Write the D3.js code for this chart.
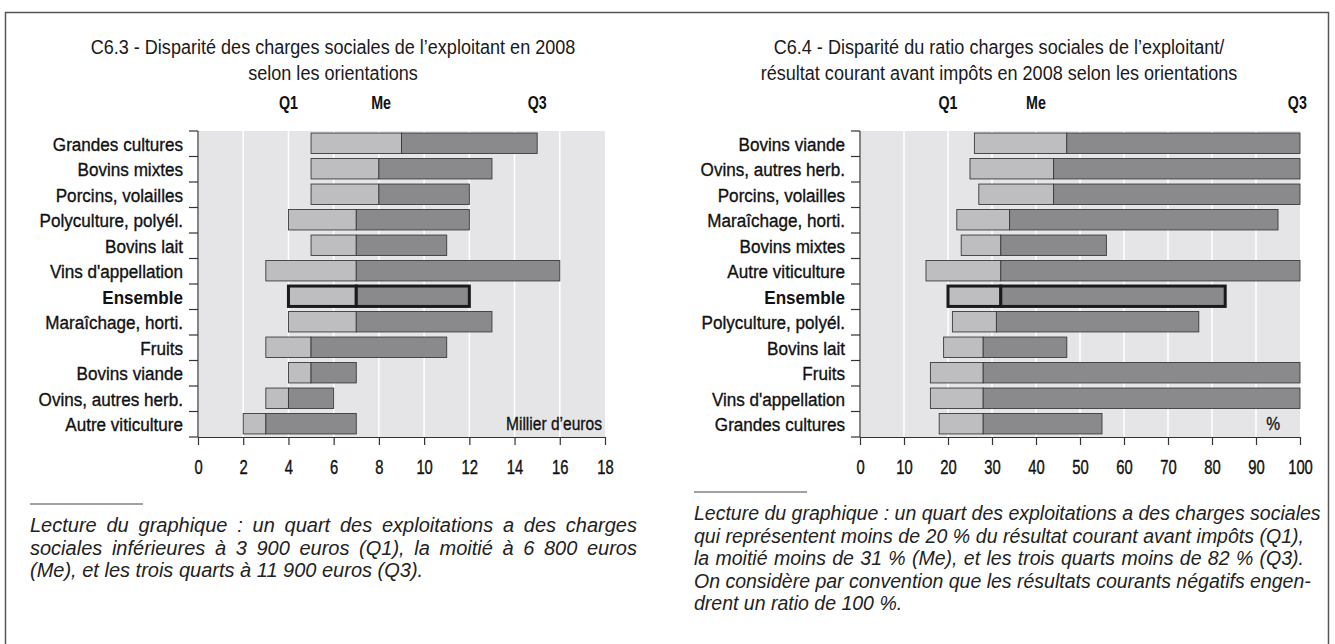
<!DOCTYPE html>
<html>
<head>
<meta charset="utf-8">
<script src="https://cdn.jsdelivr.net/npm/d3@7"></script>
<style>
  body { margin: 0; background: #fff; }
  svg { display: block; }
  text { font-family: 'Liberation Sans', Arial, sans-serif; }
  .note { font-style: italic; }
</style>
</head>
<body>
<script>
// C6.3 - charges sociales, milliers d'euros
const leftCategories = ['Grandes cultures', 'Bovins mixtes', 'Porcins, volailles', 'Polyculture, polyél.',
  'Bovins lait', "Vins d'appellation", 'Ensemble', 'Maraîchage, horti.', 'Fruits', 'Bovins viande',
  'Ovins, autres herb.', 'Autre viticulture']
const leftQ1 = [5, 5, 5, 4, 5, 3, 4, 4, 3, 4, 3, 2]
const leftMe = [9, 8, 8, 7, 7, 7, 7, 7, 5, 5, 4, 3]
const leftQ3 = [15, 13, 12, 12, 11, 16, 12, 13, 11, 7, 6, 7]
const leftTicks = [0, 2, 4, 6, 8, 10, 12, 14, 16, 18]

// C6.4 - ratio charges sociales / résultat courant, %
const rightCategories = ['Bovins viande', 'Ovins, autres herb.', 'Porcins, volailles', 'Maraîchage, horti.',
  'Bovins mixtes', 'Autre viticulture', 'Ensemble', 'Polyculture, polyél.', 'Bovins lait', 'Fruits',
  "Vins d'appellation", 'Grandes cultures']
const rightQ1 = [26, 25, 27, 22, 23, 15, 20, 21, 19, 16, 16, 18]
const rightMe = [47, 44, 44, 34, 32, 32, 32, 31, 28, 28, 28, 28]
const rightQ3 = [100, 100, 100, 95, 56, 100, 83, 77, 47, 100, 100, 55]
const rightTicks = [0, 10, 20, 30, 40, 50, 60, 70, 80, 90, 100]

const quartileLabels = ['Q1', 'Me', 'Q3']

const leftNote = [
  'Lecture du graphique : un quart des exploitations a des charges',
  'sociales inférieures à 3 900 euros (Q1), la moitié à 6 800 euros',
  '(Me), et les trois quarts à 11 900 euros (Q3).'
]
const rightNote = [
  'Lecture du graphique : un quart des exploitations a des charges sociales',
  'qui représentent moins de 20 % du résultat courant avant impôts (Q1),',
  'la moitié moins de 31 % (Me), et les trois quarts moins de 82 % (Q3).',
  'On considère par convention que les résultats courants négatifs engen-',
  'drent un ratio de 100 %.'
]

const width = 1335
const height = 644

const svg = d3.select('body').append('svg')
  .attr('width', width)
  .attr('height', height)

// outer frame
svg.append('path')
  .attr('d', 'M5.5,660V12.5H1328.5V660')
  .attr('fill', 'none')
  .attr('stroke', '#555')
  .attr('stroke-width', 1.5)

// condensed text: regular face squeezed horizontally
function narrow(sel, x, y, sx) {
  sel.attr('transform', (d, i) => {
    const px = typeof x === 'function' ? x(d, i) : x
    const py = typeof y === 'function' ? y(d, i) : y
    return `translate(${px},${py}) scale(${sx},1)`
  })
}

function drawPanel(cfg) {
  const data = cfg.categories.map((c, i) => ({ cat: c, q1: cfg.q1[i], me: cfg.me[i], q3: cfg.q3[i] }))

  const top = 131
  const bottom = 437
  const x = d3.scaleLinear().domain(cfg.domain).range(cfg.xRange)
  const y = d3.scaleBand().domain(cfg.categories).range([top, bottom]).padding(0)
  const bw = y.bandwidth()
  const g = svg.append('g')

  // title
  g.selectAll('.title')
    .data(cfg.title)
    .enter().append('text')
    .attr('text-anchor', 'middle')
    .attr('font-size', 21)
    .attr('fill', '#1a1a1a')
    .text(d => d)
    .call(narrow, cfg.titleX, (d, i) => 54 + i * 26, 0.86)

  // quartile header
  g.selectAll('.qh')
    .data(quartileLabels)
    .enter().append('text')
    .attr('text-anchor', 'middle')
    .attr('font-size', 19)
    .attr('font-weight', 'bold')
    .attr('fill', '#111')
    .text(d => d)
    .call(narrow, (d, i) => x(cfg.headerAt[i]), 109, 0.75)

  // plot background + white grid
  g.append('rect')
    .attr('x', x(cfg.domain[0]) + 1)
    .attr('y', top)
    .attr('width', x(cfg.domain[1]) - x(cfg.domain[0]) - 1)
    .attr('height', bottom - top)
    .attr('fill', '#e5e5e7')

  g.selectAll('.grid')
    .data(cfg.ticks.slice(1, -1))
    .enter().append('line')
    .attr('x1', d => x(d)).attr('x2', d => x(d))
    .attr('y1', top).attr('y2', bottom)
    .attr('stroke', '#fff')
    .attr('stroke-width', 1.5)

  // bars: Q1 -> Me light, Me -> Q3 dark
  const bars = g.selectAll('.bar').data(data).enter().append('g')
  bars.append('rect')
    .attr('x', d => x(d.q1))
    .attr('y', d => y(d.cat) + bw * 0.08)
    .attr('width', d => x(d.me) - x(d.q1))
    .attr('height', bw * 0.8)
    .attr('fill', '#bebec0')
    .attr('stroke', d => d.cat === 'Ensemble' ? '#1a1a1a' : '#3a3a3a')
    .attr('stroke-width', d => d.cat === 'Ensemble' ? 3 : 0.9)
  bars.append('rect')
    .attr('x', d => x(d.me))
    .attr('y', d => y(d.cat) + bw * 0.08)
    .attr('width', d => x(d.q3) - x(d.me))
    .attr('height', bw * 0.8)
    .attr('fill', '#8a8a8d')
    .attr('stroke', d => d.cat === 'Ensemble' ? '#1a1a1a' : '#3a3a3a')
    .attr('stroke-width', d => d.cat === 'Ensemble' ? 3 : 0.9)

  // y axis: line at 0 with ticks on row boundaries
  const yAxis = g.append('g').attr('transform', `translate(${x(cfg.domain[0])},0)`)
  yAxis.append('line')
    .attr('y1', top).attr('y2', bottom)
    .attr('stroke', '#333').attr('stroke-width', 1.2)
  yAxis.selectAll('.yt')
    .data(cfg.categories.concat(['_end']))
    .enter().append('line')
    .attr('x1', -9).attr('x2', 0)
    .attr('y1', d => d === '_end' ? bottom : y(d))
    .attr('y2', d => d === '_end' ? bottom : y(d))
    .attr('stroke', '#333').attr('stroke-width', 1.2)

  yAxis.selectAll('.yl')
    .data(cfg.categories)
    .enter().append('text')
    .attr('dy', '0.36em')
    .attr('text-anchor', 'end')
    .attr('font-size', 19)
    .attr('font-weight', d => d === 'Ensemble' ? 'bold' : 'normal')
    .attr('fill', '#111')
    .attr('stroke', '#111')
    .attr('stroke-width', d => d === 'Ensemble' ? 0 : 0.35)
    .text(d => d)
    .call(narrow, -15, d => y(d) + bw / 2, 0.9)

  // x axis
  const xAxis = g.append('g')
    .attr('transform', `translate(0,${bottom})`)
    .call(d3.axisBottom(x).tickValues(cfg.ticks).tickSize(8).tickPadding(15).tickSizeOuter(0))
  xAxis.select('.domain').attr('stroke', '#333').attr('stroke-width', 1.2)
  xAxis.selectAll('.tick line').attr('stroke', '#333').attr('stroke-width', 1.2)
  xAxis.selectAll('.tick text')
    .attr('font-family', null)
    .attr('font-size', 20)
    .attr('fill', '#111')
    .attr('stroke', '#111')
    .attr('stroke-width', 0.4)
    .attr('transform', 'scale(0.74,1)')

  // unit label
  g.append('text')
    .attr('text-anchor', 'end')
    .attr('font-size', 19)
    .attr('fill', '#111')
    .attr('stroke', '#111')
    .attr('stroke-width', 0.35)
    .text(cfg.unit)
    .call(narrow, x(cfg.domain[1]) - cfg.unitOffset, 430, 0.82)

  // reading note, justified with word spacing
  g.append('line')
    .attr('x1', cfg.noteX).attr('x2', cfg.noteX + 113)
    .attr('y1', cfg.noteY - 20).attr('y2', cfg.noteY - 20)
    .attr('stroke', '#444').attr('stroke-width', 1)
  g.selectAll('.note')
    .data(cfg.note)
    .enter().append('text')
    .attr('class', 'note')
    .attr('x', cfg.noteX)
    .attr('y', (d, i) => cfg.noteY + 8 + i * 22.5)
    .attr('font-size', cfg.noteSize)
    .attr('fill', '#222')
    .text(d => d)
    .each(function (d, i) {
      if (i === cfg.note.length - 1) return
      const natural = this.getComputedTextLength()
      const gaps = (d.match(/ /g) || []).length
      if (gaps && natural < cfg.noteWidth) {
        d3.select(this).style('word-spacing', ((cfg.noteWidth - natural) / gaps) + 'px')
      }
    })
}

drawPanel({
  categories: leftCategories, q1: leftQ1, me: leftMe, q3: leftQ3, ticks: leftTicks,
  domain: [0, 18], xRange: [198, 605],
  title: ['C6.3 - Disparité des charges sociales de l’exploitant en 2008', 'selon les orientations'],
  titleX: 333, headerAt: [4, 8.1, 15],
  unit: 'Millier d’euros', unitOffset: 3,
  note: leftNote, noteX: 30, noteY: 524, noteSize: 20, noteWidth: 607
})

drawPanel({
  categories: rightCategories, q1: rightQ1, me: rightMe, q3: rightQ3, ticks: rightTicks,
  domain: [0, 100], xRange: [860, 1300],
  title: ['C6.4 - Disparité du ratio charges sociales de l’exploitant/',
    'résultat courant avant impôts en 2008 selon les orientations'],
  titleX: 999, headerAt: [20, 40, 99.4],
  unit: '%', unitOffset: 20,
  note: rightNote, noteX: 694, noteY: 512, noteSize: 19.5, noteWidth: 610
})
</script>
</body>
</html>
